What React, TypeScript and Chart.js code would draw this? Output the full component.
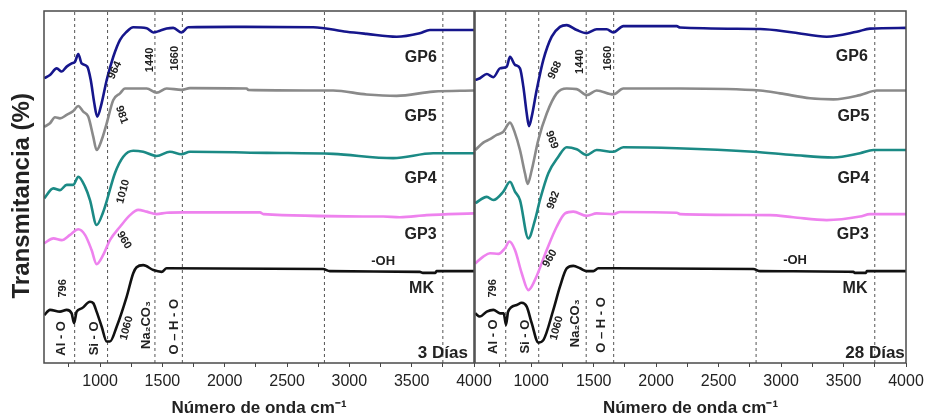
import React, { useEffect, useRef } from 'react';
import { Chart, registerables } from 'chart.js';

Chart.register(...registerables);

type Pt = [number, number];
type Note = { t: string; x: number; y: number; r: number; s: number };

const FONT = "'Liberation Sans', Arial, sans-serif";

const SERIES_NAMES = ['GP6', 'GP5', 'GP4', 'GP3', 'MK'];
const SERIES_COLORS = ['#16168c', '#8a8a8a', '#1b8a85', '#ee82ee', '#111111'];

// Wavenumber range and axis ticks (cm-1)
const X_MIN = 550;
const X_MAX = 4000;
const TICK_VALUES = [750, 1000, 1250, 1500, 1750, 2000, 2250, 2500, 2750, 3000, 3250, 3500, 3750, 4000];
const LABELLED_STEP = 500;
const Y_TITLE = 'Transmitancia (%)';
const X_TITLE = 'Número de onda cm⁻¹';

// Reference band positions (dashed guides)
const BAND_LINES = [796, 1060, 1440, 1660, 2800, 3750];

// ---- 3 days: [wavenumber, transmittance (offset stack)] ----
const GP6_3D: Pt[] = [
  [552, 80.9], [598, 81.8], [652, 83.7], [692, 82.8], [732, 84.2], [772, 85.1], [799, 85.6], [825, 87.8],
  [852, 85.1], [897, 84.2], [925, 80.4], [953, 73.9], [977, 70.0], [1013, 73.9], [1053, 80.4], [1106, 87.0],
  [1160, 91.8], [1213, 94.1], [1266, 95.4], [1374, 95.1], [1427, 93.9], [1480, 94.4], [1534, 95.0], [1587, 95.2],
  [1654, 93.9], [1707, 95.4], [2068, 95.5], [2710, 95.4], [2978, 94.1], [3138, 93.5], [3379, 92.7], [3565, 93.7],
  [3646, 94.6], [4000, 94.6],
];
const GP5_3D: Pt[] = [
  [552, 67.1], [598, 68.1], [638, 69.8], [678, 69.5], [732, 70.5], [785, 71.6], [825, 73.0], [865, 71.4],
  [905, 70.0], [945, 64.3], [972, 60.5], [1013, 63.4], [1053, 68.1], [1106, 74.7], [1160, 76.6], [1200, 78.0],
  [1374, 78.0], [1454, 76.8], [1534, 78.0], [1654, 77.6], [1721, 78.1], [2176, 78.0], [2189, 77.6], [2870, 77.4],
  [3138, 76.3], [3379, 75.9], [3673, 77.1], [4000, 77.4],
];
const GP4_3D: Pt[] = [
  [552, 46.8], [625, 49.6], [678, 49.1], [732, 50.6], [785, 50.6], [825, 52.9], [879, 50.1], [919, 46.3],
  [972, 39.2], [1025, 42.9], [1053, 46.0], [1119, 53.9], [1186, 58.6], [1266, 60.3], [1346, 60.0], [1454, 58.8],
  [1560, 60.0], [1654, 59.3], [1721, 60.0], [2336, 59.7], [2870, 59.4], [3352, 58.2], [3673, 59.6], [4000, 59.6],
];
const GP3_3D: Pt[] = [
  [552, 34.0], [625, 35.4], [692, 34.9], [759, 36.4], [825, 38.0], [879, 36.4], [932, 32.1], [972, 28.1],
  [1025, 30.7], [1079, 34.9], [1160, 38.7], [1240, 42.0], [1306, 43.5], [1374, 43.0], [1454, 42.3], [1534, 42.7],
  [1667, 42.8], [2283, 42.8], [2310, 42.3], [3271, 41.6], [3405, 41.4], [3619, 42.0], [4000, 42.5],
];
const MK_3D: Pt[] = [
  [552, 13.6], [598, 15.1], [678, 14.6], [732, 15.1], [772, 14.1], [791, 11.3], [812, 14.6], [852, 15.5],
  [919, 17.4], [945, 17.0], [972, 14.6], [1013, 10.3], [1053, 6.1], [1079, 6.1], [1133, 10.3], [1213, 18.8],
  [1266, 25.5], [1293, 27.2], [1346, 27.8], [1427, 26.4], [1494, 25.9], [1534, 26.9], [2790, 26.7], [2843, 26.1],
  [3565, 25.9], [3590, 25.6], [3690, 25.6], [3699, 26.1], [4000, 26.1],
];

// ---- 28 days ----
const GP6_28D: Pt[] = [
  [552, 80.4], [590, 80.9], [644, 82.1], [697, 81.2], [750, 83.7], [804, 84.2], [830, 87.0], [870, 84.7],
  [910, 83.7], [937, 78.5], [964, 70.9], [982, 67.3], [1004, 70.0], [1044, 77.6], [1097, 86.1], [1164, 92.7],
  [1230, 95.5], [1284, 96.0], [1364, 94.6], [1444, 93.7], [1524, 94.8], [1604, 94.8], [1657, 93.9], [1737, 95.7],
  [2165, 95.7], [2191, 95.3], [2832, 94.9], [3098, 93.9], [3365, 92.7], [3606, 94.1], [3712, 95.0], [4000, 95.2],
];
const GP5_28D: Pt[] = [
  [552, 60.5], [616, 62.6], [670, 63.6], [724, 64.8], [777, 65.7], [830, 68.3], [870, 65.3], [910, 60.5],
  [950, 53.9], [972, 50.9], [1004, 54.8], [1057, 63.4], [1124, 70.9], [1204, 76.6], [1284, 78.0], [1364, 77.8],
  [1444, 76.1], [1524, 77.4], [1657, 76.3], [1737, 78.0], [2191, 78.0], [2832, 77.4], [2992, 76.6], [3232, 75.2],
  [3419, 74.9], [3632, 76.1], [3766, 77.4], [4000, 77.4],
];
const GP4_28D: Pt[] = [
  [552, 45.4], [644, 47.2], [697, 46.3], [777, 48.7], [830, 51.5], [870, 48.7], [910, 46.3], [977, 35.4],
  [1030, 40.6], [1070, 46.3], [1137, 53.9], [1217, 58.6], [1284, 61.3], [1364, 60.7], [1444, 59.1], [1524, 60.5],
  [1657, 60.0], [1737, 61.3], [2165, 61.0], [2778, 60.0], [3098, 59.1], [3419, 58.4], [3632, 59.6], [3739, 60.5],
  [4000, 60.5],
];
const GP3_28D: Pt[] = [
  [552, 28.3], [616, 30.2], [670, 31.2], [737, 31.0], [790, 32.6], [825, 34.5], [870, 32.1], [924, 25.5],
  [977, 20.7], [1030, 23.6], [1124, 32.1], [1204, 38.7], [1271, 42.5], [1337, 43.0], [1444, 41.8], [1524, 42.5],
  [1657, 42.3], [1711, 42.9], [2165, 42.7], [2191, 42.3], [2912, 42.0], [3098, 41.4], [3365, 40.6], [3632, 41.6],
  [3712, 42.3], [4000, 42.3],
];
const MK_28D: Pt[] = [
  [552, 14.1], [590, 13.2], [644, 14.6], [697, 15.1], [750, 14.1], [780, 14.1], [798, 10.8], [815, 14.6],
  [884, 16.5], [924, 17.1], [964, 16.0], [1004, 11.3], [1057, 5.8], [1097, 6.5], [1177, 15.1], [1230, 21.7],
  [1284, 26.9], [1337, 27.6], [1391, 26.9], [1444, 26.1], [1497, 26.1], [1537, 26.9], [2778, 26.7], [2832, 26.1],
  [3579, 25.9], [3590, 25.6], [3680, 25.6], [3686, 26.1], [4000, 26.1],
];

// Band and sample annotations, placed in data coordinates
const NOTES_3D: Note[] = [
  { t: '964', x: 1119, y: 83.2, r: -65, s: 11 },
  { t: '1440', x: 1400, y: 86.1, r: -90, s: 11 },
  { t: '1660', x: 1601, y: 86.6, r: -90, s: 11 },
  { t: '981', x: 1173, y: 70.5, r: 70, s: 11 },
  { t: '1010', x: 1186, y: 48.7, r: -75, s: 11 },
  { t: '960', x: 1192, y: 34.9, r: 60, s: 11 },
  { t: '1060', x: 1213, y: 9.9, r: -75, s: 11 },
  { t: '796', x: 705, y: 21.2, r: -90, s: 11 },
  { t: 'Al - O', x: 692, y: 7.0, r: -90, s: 13 },
  { t: 'Si - O', x: 953, y: 7.0, r: -90, s: 13 },
  { t: 'Na₂CO₃', x: 1374, y: 10.8, r: -90, s: 13 },
  { t: 'O – H - O', x: 1593, y: 10.3, r: -90, s: 13 },
  { t: '-OH', x: 3271, y: 28.8, r: 0, s: 13 },
  { t: 'GP6', x: 3573, y: 86.9, r: 0, s: 16 },
  { t: 'GP5', x: 3571, y: 70.0, r: 0, s: 16 },
  { t: 'GP4', x: 3571, y: 52.5, r: 0, s: 16 },
  { t: 'GP3', x: 3571, y: 36.4, r: 0, s: 16 },
  { t: 'MK', x: 3579, y: 21.2, r: 0, s: 16 },
  { t: '3 Días', x: 3750, y: 2.8, r: 0, s: 17 },
];
const NOTES_28D: Note[] = [
  { t: '968', x: 1190, y: 83.2, r: -65, s: 11 },
  { t: '1440', x: 1391, y: 85.6, r: -90, s: 11 },
  { t: '1660', x: 1617, y: 86.6, r: -90, s: 11 },
  { t: '969', x: 1164, y: 63.4, r: 70, s: 11 },
  { t: '982', x: 1177, y: 46.3, r: -70, s: 11 },
  { t: '960', x: 1150, y: 29.7, r: -60, s: 11 },
  { t: '1060', x: 1204, y: 9.9, r: -75, s: 11 },
  { t: '796', x: 697, y: 21.2, r: -90, s: 11 },
  { t: 'Al - O', x: 697, y: 7.5, r: -90, s: 13 },
  { t: 'Si - O', x: 950, y: 7.5, r: -90, s: 13 },
  { t: 'Na₂CO₃', x: 1351, y: 11.3, r: -90, s: 13 },
  { t: 'O – H - O', x: 1562, y: 10.8, r: -90, s: 13 },
  { t: '-OH', x: 3112, y: 29.0, r: 0, s: 13 },
  { t: 'GP6', x: 3566, y: 87.0, r: 0, s: 16 },
  { t: 'GP5', x: 3579, y: 70.0, r: 0, s: 16 },
  { t: 'GP4', x: 3579, y: 52.5, r: 0, s: 16 },
  { t: 'GP3', x: 3574, y: 36.4, r: 0, s: 16 },
  { t: 'MK', x: 3592, y: 21.2, r: 0, s: 16 },
  { t: '28 Días', x: 3752, y: 2.7, r: 0, s: 17 },
];

const SPECTRA_3D = [GP6_3D, GP5_3D, GP4_3D, GP3_3D, MK_3D];
const SPECTRA_28D = [GP6_28D, GP5_28D, GP4_28D, GP3_28D, MK_28D];

// Frame, band labels and (optionally) the vertical axis title
function makeNotesPlugin(notes: Note[], withYTitle: boolean) {
  return {
    id: 'bandNotes',
    afterDatasetsDraw(chart: any) {
      const { ctx, chartArea, scales } = chart;
      ctx.save();
      ctx.strokeStyle = '#4a4a4a';
      ctx.lineWidth = 1.5;
      ctx.strokeRect(chartArea.left, chartArea.top, chartArea.right - chartArea.left, chartArea.bottom - chartArea.top);
      ctx.fillStyle = '#222';
      ctx.textAlign = 'center';
      ctx.textBaseline = 'middle';
      for (const n of notes) {
        const px = scales.x.getPixelForValue(n.x);
        const py = scales.y.getPixelForValue(n.y);
        ctx.save();
        ctx.translate(px, py);
        ctx.rotate((n.r * Math.PI) / 180);
        ctx.font = `bold ${n.s}px ${FONT}`;
        ctx.fillText(n.t, 0, 0);
        ctx.restore();
      }
      if (withYTitle) {
        ctx.save();
        ctx.translate(22, scales.y.getPixelForValue(47.5));
        ctx.rotate(-Math.PI / 2);
        ctx.font = `bold 24px ${FONT}`;
        ctx.fillText(Y_TITLE, 0, 0);
        ctx.restore();
      }
      ctx.restore();
    },
  };
}

function makeConfig(spectra: Pt[][], notes: Note[], withYTitle: boolean, padLeft: number, padRight: number): any {
  const datasets: any[] = [
    ...spectra.map((pts, i) => ({
      label: SERIES_NAMES[i],
      data: pts.map(([x, y]) => ({ x, y })),
      borderColor: SERIES_COLORS[i],
      borderWidth: 2.6,
      pointRadius: 0,
      cubicInterpolationMode: 'monotone',
      fill: false,
      order: 0,
    })),
    ...BAND_LINES.map((b) => ({
      label: `band ${b}`,
      data: [{ x: b, y: 0 }, { x: b, y: 100 }],
      borderColor: '#555',
      borderWidth: 1,
      borderDash: [3, 3],
      pointRadius: 0,
      fill: false,
      order: 1,
    })),
  ];

  const yWidth = withYTitle ? 44 : 0;

  return {
    type: 'line',
    data: { datasets },
    plugins: [makeNotesPlugin(notes, withYTitle)],
    options: {
      animation: false,
      responsive: false,
      devicePixelRatio: 1,
      layout: { padding: { left: padLeft, right: padRight, top: 11, bottom: 0 } },
      plugins: { legend: { display: false }, tooltip: { enabled: false } },
      scales: {
        x: {
          type: 'linear',
          min: X_MIN,
          max: X_MAX,
          afterBuildTicks: (s: any) => {
            s.ticks = TICK_VALUES.map((v) => ({ value: v }));
          },
          afterFit: (s: any) => {
            s.height = 56;
            s.paddingLeft = 0;
            s.paddingRight = 0;
          },
          ticks: {
            autoSkip: false,
            maxRotation: 0,
            padding: 5,
            color: '#222',
            font: { size: 16, family: FONT },
            callback: (v: any) => (Number(v) % LABELLED_STEP === 0 ? String(v) : ''),
          },
          grid: { drawOnChartArea: false, drawTicks: true, tickLength: 4, color: '#444', lineWidth: 1 },
          border: { display: false },
          title: {
            display: true,
            text: X_TITLE,
            color: '#222',
            padding: 0,
            font: { size: 17, weight: 'bold', family: FONT },
          },
        },
        y: {
          type: 'linear',
          min: 0,
          max: 100,
          display: true,
          afterFit: (s: any) => {
            s.width = yWidth;
            s.paddingTop = 0;
            s.paddingBottom = 0;
          },
          ticks: { display: false },
          grid: { display: false },
          border: { display: false },
          title: { display: false },
        },
      },
    },
  };
}

export default function App() {
  const leftRef = useRef<HTMLCanvasElement>(null);
  const rightRef = useRef<HTMLCanvasElement>(null);

  useEffect(() => {
    const left = new Chart(leftRef.current as HTMLCanvasElement, makeConfig(SPECTRA_3D, NOTES_3D, true, 0, 26));
    const right = new Chart(rightRef.current as HTMLCanvasElement, makeConfig(SPECTRA_28D, NOTES_28D, false, 1, 21));
    return () => {
      left.destroy();
      right.destroy();
    };
  }, []);

  return (
    <div style={{ position: 'fixed', left: 0, top: 0, width: 927, height: 419, background: '#fff', overflow: 'hidden' }}>
      <canvas ref={leftRef} width={500} height={419} style={{ position: 'absolute', left: 0, top: 0, width: 500, height: 419 }} />
      <canvas ref={rightRef} width={453} height={419} style={{ position: 'absolute', left: 474, top: 0, width: 453, height: 419 }} />
    </div>
  );
}
